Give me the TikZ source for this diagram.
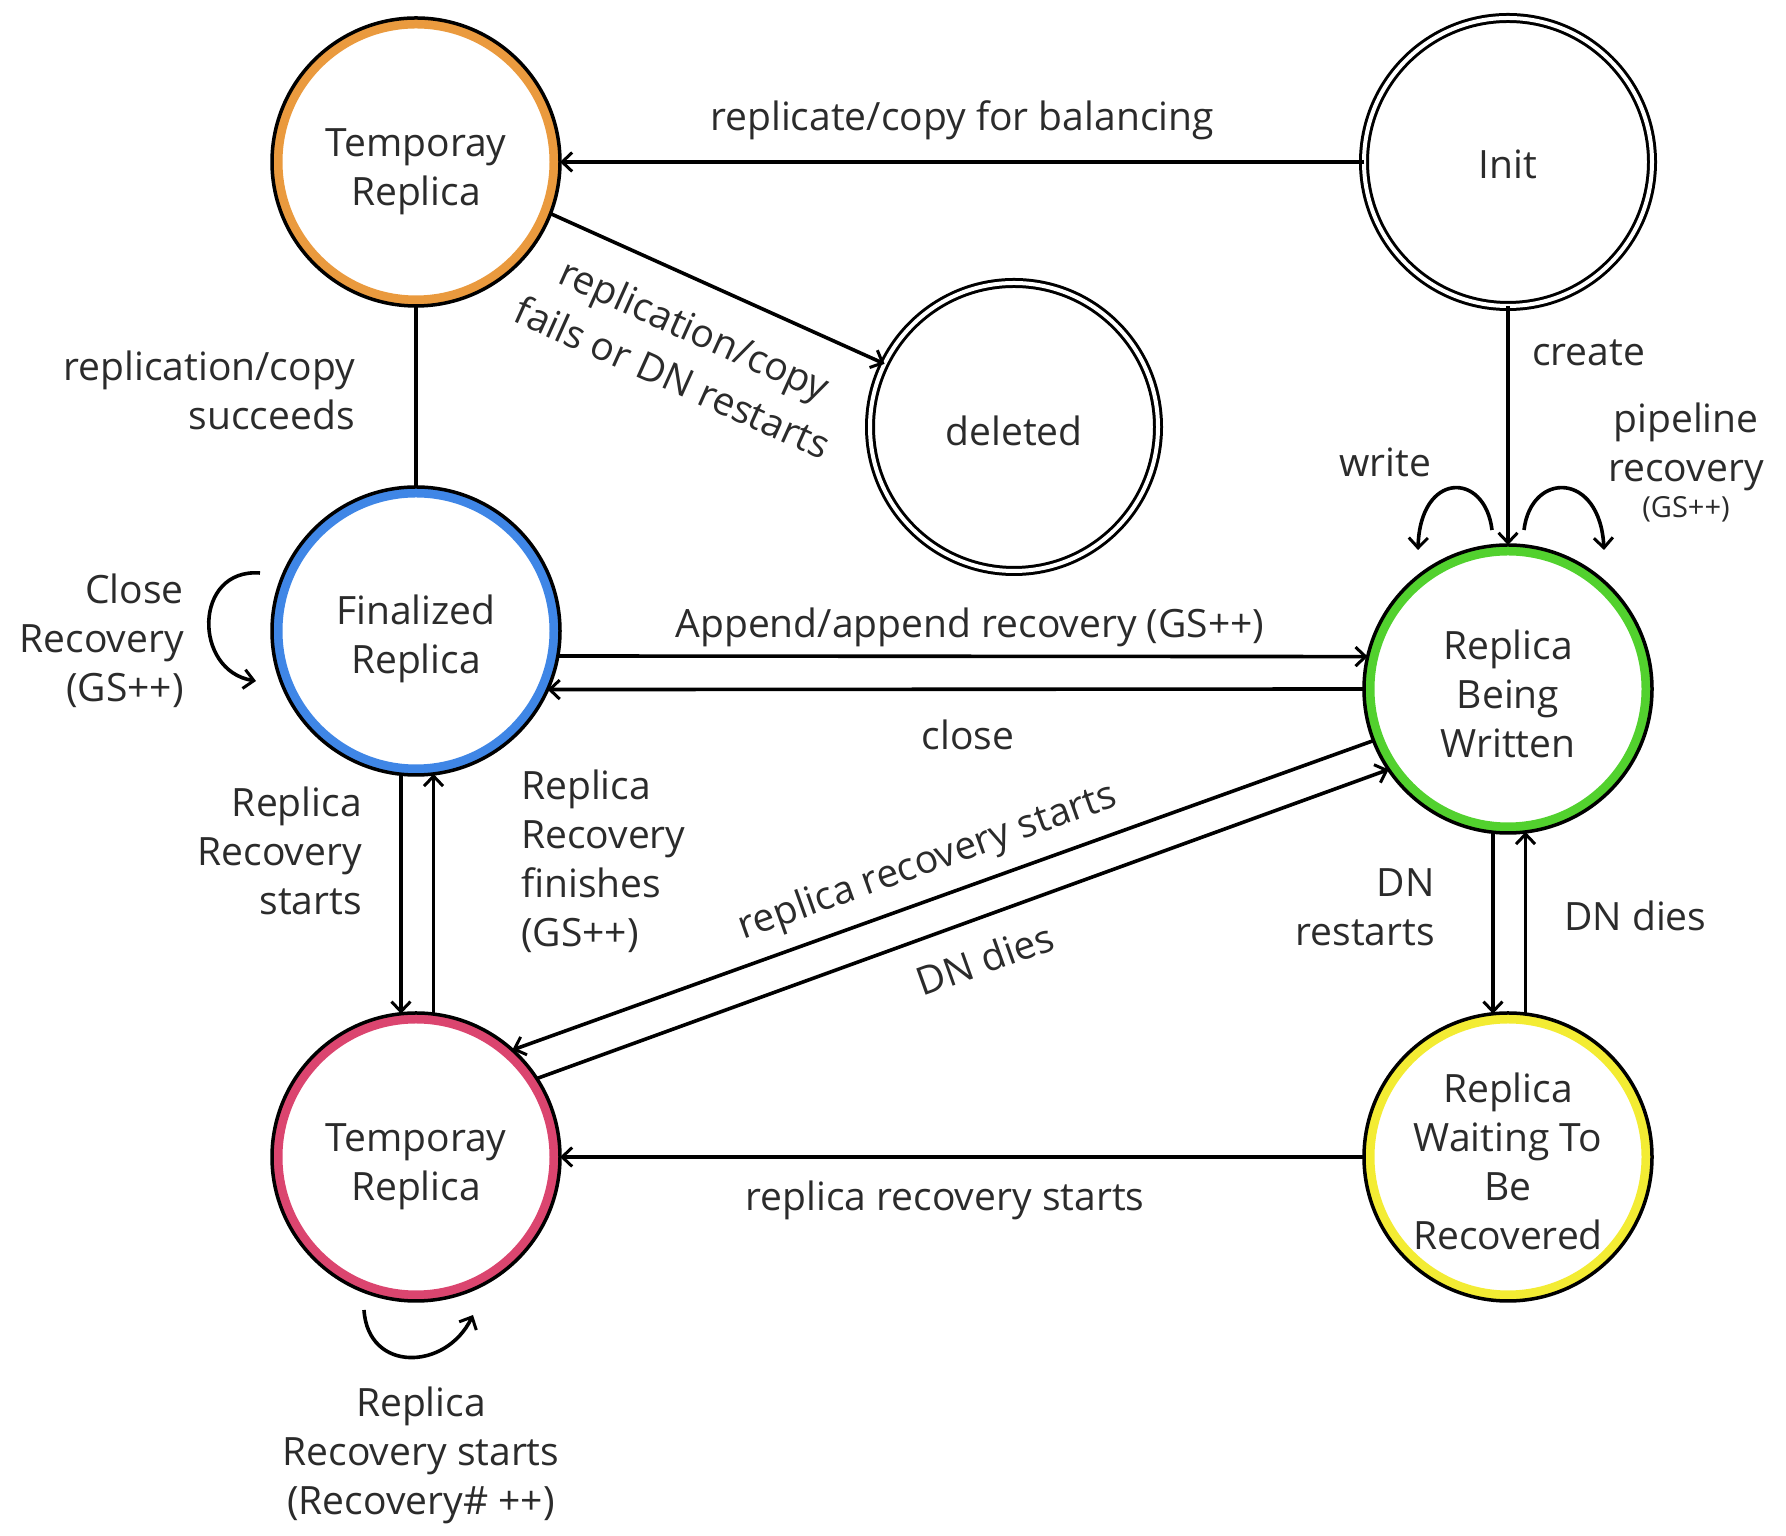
\documentclass[tikz,border=0pt]{standalone}
\usepackage{fontspec}
\setmainfont{Open Sans}
\usetikzlibrary{arrows.meta,calc}
\definecolor{txt}{HTML}{2B2B2B}
\definecolor{corange}{HTML}{EA9A3E}
\definecolor{cblue}{HTML}{3F86E6}
\definecolor{cgreen}{HTML}{52D12E}
\definecolor{cred}{HTML}{DB456F}
\definecolor{cyellow}{HTML}{F3EC33}
\begin{document}
\begin{tikzpicture}[x=1pt,y=1pt,
  every node/.style={font=\fontsize{39}{49}\selectfont, text=txt},
  state/.style={circle, draw=black, line width=3.5pt, minimum size=288pt, inner sep=0pt, outer sep=0pt,
    path picture={\draw[line width=21pt,#1] (path picture bounding box.center) circle[radius=144pt];}},
  dstate/.style={circle, draw=black, line width=3pt, double=white, double distance=4pt,
    minimum size=288pt, inner sep=0pt, outer sep=0pt},
  edge/.style={line width=3.6pt, draw=black},
  arr/.style={edge, -{Straight Barb[length=10pt,width=19pt,line width=3pt]}},
  lbl/.style={align=center, inner sep=0pt},
  small/.style={font=\fontsize{29}{34}\selectfont}
]
\useasboundingbox[fill=white] (0,0) rectangle (1786,1536);

% states
\node[state=corange] (O) at (416,1374) {};
\node[dstate] (I) at (1508,1374) {};
\node[dstate] (D) at (1014,1109) {};
\node[state=cblue] (F) at (416,905) {};
\node[state=cgreen] (G) at (1508,847) {};
\node[state=cred] (R) at (416,379) {};
\node[state=cyellow] (W) at (1508,379) {};

\node[lbl] (Ot) at (416,1364) {Temporay\\Replica};
\node[lbl] (It) at (1508,1372) {Init};
\node[lbl] (Dt) at (1014,1105) {deleted};
\node[lbl] (Ft) at (416,897) {Finalized\\Replica};
\node[lbl] (Gt) at (1508,842) {Replica\\Being\\Written};
\node[lbl] (Rt) at (416,369) {Temporay\\Replica};
\node[lbl] (Wt) at (1508,375) {Replica\\Waiting To\\Be\\Recovered};

% straight transitions
\draw[arr] (I.180) -- (O.0);
\draw[arr] (O.-21) -- (D.154);
\draw[edge] (O.-90) -- (F.90);
\draw[arr] (I.-90) -- (G.90);
\draw[arr] (F.-10.8) -- (G.167.57);
\draw[arr] (G.180.8) -- (F.-24.62);
\draw[arr] (F.-96.78) -- (R.96.78);
\draw[arr] (R.83.22) -- (F.-83.22);
\draw[arr] (G.-96.78) -- (W.96.78);
\draw[arr] (W.83.22) -- (G.-83.22);
\draw[arr] (G.-159.4) -- (R.48.3);
\draw[arr] (R.33.9) -- (G.214.1);
\draw[arr] (W.180) -- (R.0);

% self loops
\draw[arr] ($(F.center)+(-156,58)$) .. controls ($(F.center)+(-223,63)$) and ($(F.center)+(-223,-40)$) .. ($(F.center)+(-160,-50)$);
\draw[arr] ($(G.center)+(-16,159)$) .. controls ($(G.center)+(-23,218)$) and ($(G.center)+(-88,218)$) .. ($(G.center)+(-90,139)$);
\draw[arr] ($(G.center)+(16,159)$) .. controls ($(G.center)+(23,218)$) and ($(G.center)+(92,218)$) .. ($(G.center)+(96,139)$);
\draw[arr] ($(R.center)+(-52,-153)$) .. controls ($(R.center)+(-48,-216)$) and ($(R.center)+(30,-214)$) .. ($(R.center)+(57,-158)$);

% labels
\node[lbl] (l1) at (962,1416) {replicate/copy for balancing};
\node[lbl, rotate=-24.2, font=\fontsize{39}{53}\selectfont] (l2) at (684,1183) {replication/copy\\fails or DN restarts};
\node[lbl, align=right, anchor=east] (l3) at (355,1146) {replication/copy\\succeeds};
\node[lbl, anchor=west] (l4) at (1532,1183) {create};
\node[lbl] (l5) at (1385,1074) {write};
\node[lbl] (l6) at (1686,1089) {pipeline\\recovery};
\node[lbl, small] (l6b) at (1686,1027) {(GS++)};
\node[lbl] (l7) at (970,909) {Append/append recovery (GS++)};
\node[lbl] (l8) at (968,801) {close};
\node[lbl, align=right, anchor=east] (l9) at (184,895) {Close\\Recovery\\(GS++)};
\node[lbl, align=right, anchor=east] (l10) at (362,685) {Replica\\Recovery\\starts};
\node[lbl, align=left, anchor=west] (l11) at (521,675) {Replica\\Recovery\\finishes\\(GS++)};
\node[lbl, rotate=19.7] (l12) at (928,673) {replica recovery starts};
\node[lbl, rotate=19.7] (l13) at (985,577) {DN dies};
\node[lbl, align=right, anchor=east] (l14) at (1435,629) {DN\\restarts};
\node[lbl, anchor=west] (l15) at (1564,620) {DN dies};
\node[lbl] (l16) at (945,336) {replica recovery starts};
\node[lbl] (l17) at (421,81) {Replica\\Recovery starts\\(Recovery\# ++)};
\end{tikzpicture}
\end{document}
